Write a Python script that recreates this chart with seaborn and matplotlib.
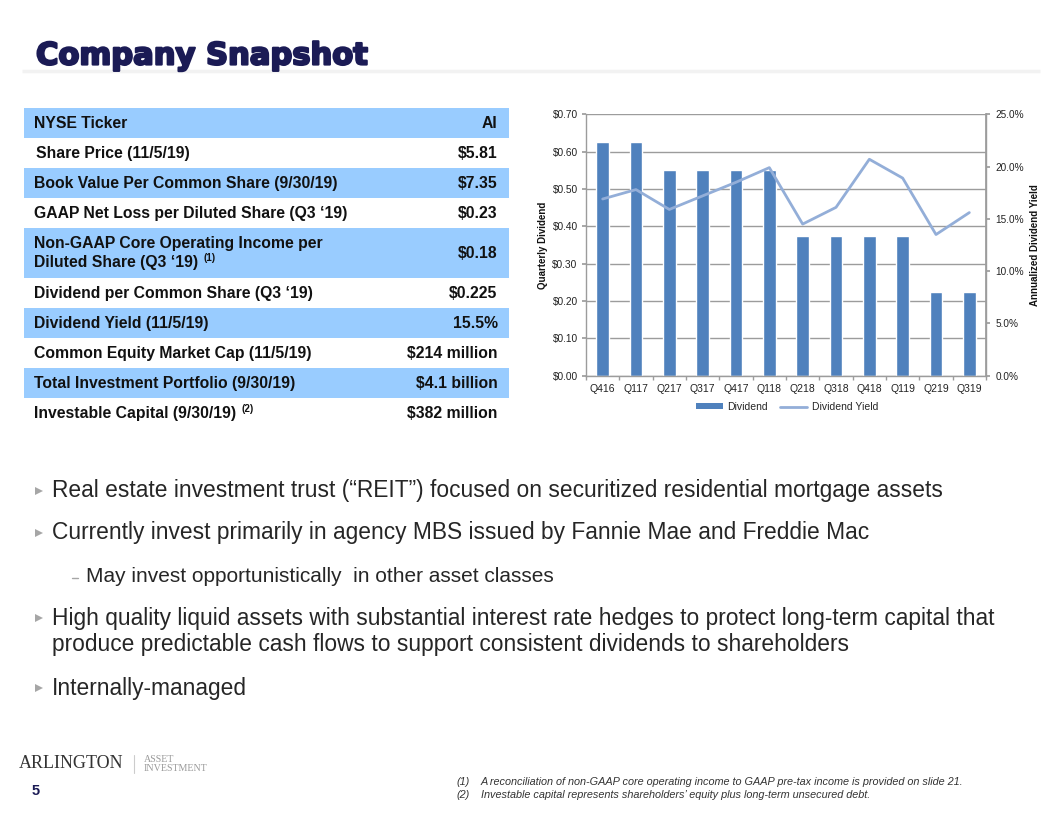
import matplotlib
matplotlib.use("Agg")
import matplotlib.pyplot as plt
import matplotlib.patheffects as pe
import seaborn as sns
import pandas as pd
import numpy as np
from matplotlib.patches import Rectangle
from matplotlib.lines import Line2D
from matplotlib.ticker import FuncFormatter, MultipleLocator, FixedLocator

# ---------------- data ----------------
quarters = ["Q416", "Q117", "Q217", "Q317", "Q417", "Q118",
            "Q218", "Q318", "Q418", "Q119", "Q219", "Q319"]
dividend = [0.625, 0.625, 0.55, 0.55, 0.55, 0.55,
            0.375, 0.375, 0.375, 0.375, 0.225, 0.225]
dividend_yield = [16.9, 17.8, 15.9, 17.2, 18.5, 19.9,
                  14.5, 16.1, 20.7, 18.9, 13.5, 15.6]

table_labels = ["NYSE Ticker",
                "Share Price (11/5/19)",
                "Book Value Per Common Share (9/30/19)",
                "GAAP Net Loss per Diluted Share (Q3 \u201819)",
                "Non-GAAP Core Operating Income per\nDiluted Share (Q3 \u201819)",
                "Dividend per Common Share (Q3 \u201819)",
                "Dividend Yield (11/5/19)",
                "Common Equity Market Cap (11/5/19)",
                "Total Investment Portfolio (9/30/19)",
                "Investable Capital (9/30/19)"]
table_values = ["AI", "$5.81", "$7.35", "$0.23", "$0.18", "$0.225",
                "15.5%", "$214 million", "$4.1 billion", "$382 million"]
table_notes = ["", "", "", "", "(1)", "", "", "", "", "(2)"]

bullets = [
    ("main", ["Real estate investment trust (\u201cREIT\u201d) focused on securitized residential mortgage assets"]),
    ("main", ["Currently invest primarily in agency MBS issued by Fannie Mae and Freddie Mac"]),
    ("sub", ["May invest opportunistically  in other asset classes"]),
    ("main", ["High quality liquid assets with substantial interest rate hedges to protect long-term capital that",
              "produce predictable cash flows to support consistent dividends to shareholders"]),
    ("main", ["Internally-managed"]),
]
footnotes = [("(1)", "A reconciliation of non-GAAP core operating income to GAAP pre-tax income is provided on slide 21."),
             ("(2)", "Investable capital represents shareholders\u2019 equity plus long-term unsecured debt.")]

# ---------------- style ----------------
sns.set_theme(style="white")
plt.rcParams['font.family'] = ['Liberation Sans', 'DejaVu Sans']

W, H = 1056, 816
fig = plt.figure(figsize=(W / 100, H / 100), dpi=100)
fig.patch.set_facecolor("white")

NAVY = "#1B1B55"
BLUE_ROW = "#99CCFF"
TEXT = "#262626"

# overlay axes in pixel coordinates
ov = fig.add_axes([0, 0, 1, 1])
ov.set_xlim(0, W)
ov.set_ylim(H, 0)
ov.axis("off")

# title
ov.text(36, 56, "Company Snapshot", family="DejaVu Sans", weight="bold",
        fontsize=22, color=NAVY, va="center", ha="left",
        path_effects=[pe.withStroke(linewidth=1.6, foreground=NAVY)])
ov.plot([22, 1040], [71, 71], color="#F2F2F2", lw=2.5, solid_capstyle="butt")

# ---------------- table ----------------
FS_T = 11.3
bounds = [108, 137.5, 168, 198, 228, 277.5, 308, 338, 368, 398, 428]
renderer = fig.canvas.get_renderer()
for i, (lab, val, note) in enumerate(zip(table_labels, table_values, table_notes)):
    top, bot = bounds[i], bounds[i + 1]
    if i % 2 == 0:
        ov.add_patch(Rectangle((24, top), 485, bot - top, facecolor=BLUE_ROW,
                               edgecolor="none"))
    yc = (top + bot) / 2 + 0.5
    x0 = 35.5 if i == 1 else 34.5
    lines = lab.split("\n")
    if len(lines) == 1:
        t = ov.text(x0, yc, lines[0], fontsize=FS_T, weight="bold", color="#111111",
                    va="center", ha="left")
        ty = yc
    else:
        ov.text(x0, yc - 9.5, lines[0], fontsize=FS_T, weight="bold", color="#111111",
                va="center", ha="left")
        t = ov.text(x0, yc + 9.5, lines[1], fontsize=FS_T, weight="bold", color="#111111",
                    va="center", ha="left")
        ty = yc + 9.5
    if note:
        bb = t.get_window_extent(renderer=renderer)
        ov.text(bb.x1 + 5, ty - 5, note, fontsize=7, weight="bold", color="#111111",
                va="center", ha="left")
    ov.text(497.5, yc, val, fontsize=FS_T, weight="bold", color="#111111",
            va="center", ha="right")

# ---------------- bullets ----------------
ys = [[491], [533], [577], [618, 644], [688]]
for (kind, lines), yl in zip(bullets, ys):
    if kind == "main":
        ov.plot([38.5], [yl[0]], marker=">", markersize=6, color="#A6A6A6",
                markeredgewidth=0)
        for ln, y in zip(lines, yl):
            ov.text(52, y, ln, fontsize=16.4, color=TEXT, va="center", ha="left")
    else:
        ov.plot([72, 78], [yl[0] + 1, yl[0] + 1], color="#A6A6A6", lw=1)
        ov.text(86, yl[0], lines[0], fontsize=15.0, color=TEXT, va="center", ha="left")

# ---------------- footer ----------------
ov.text(19, 764, "ARLINGTON", family="Liberation Serif", fontsize=13,
        color="#333333", va="center", ha="left")
ov.plot([134, 134], [755, 773], color="#CCCCCC", lw=0.8)
ov.text(144, 760, "ASSET", family="Liberation Serif", fontsize=7.2,
        color="#9A9A9A", va="center", ha="left")
ov.text(144, 768.5, "INVESTMENT", family="Liberation Serif", fontsize=7.2,
        color="#9A9A9A", va="center", ha="left")
ov.text(32, 791, "5", fontsize=10.5, weight="bold", color=NAVY, va="center", ha="left")
for (num, txt), y in zip(footnotes, [782, 795]):
    ov.text(456, y, num, fontsize=7.8, style="italic", color="#333333",
            va="center", ha="left")
    ov.text(481, y, txt, fontsize=7.8, style="italic", color="#333333",
            va="center", ha="left")

# ---------------- chart ----------------
L, R, T, B = 586, 986, 114.3, 375.7
ax = fig.add_axes([L / W, 1 - B / H, (R - L) / W, (B - T) / H])
df = pd.DataFrame({"Quarter": quarters, "Dividend": dividend, "Yield": dividend_yield})
sns.barplot(data=df, x="Quarter", y="Dividend", color="#4F81BD", saturation=1,
            width=0.38, ax=ax)
ax.set_xlim(-0.5, len(quarters) - 0.5)
ax.set_ylim(0, 0.70)
ax.yaxis.set_major_locator(MultipleLocator(0.1))
ax.yaxis.set_major_formatter(FuncFormatter(lambda v, p: f"${v:.2f}"))
ax.grid(axis="y", color="#9C9C9C", lw=1)
ax.grid(axis="x", visible=False)
ax.set_axisbelow(True)
ax.set_facecolor("none")
ax.spines["top"].set_visible(False)
for s in ["left", "right", "bottom"]:
    ax.spines[s].set_color("#9C9C9C")
    ax.spines[s].set_linewidth(1)
ax.set_xlabel("")
ax.set_ylabel("Quarterly Dividend", fontsize=7, weight="bold", color="#111111", labelpad=3)
ax.tick_params(axis="x", which="major", length=0, labelsize=7.5, colors="#222222", pad=6)
ax.xaxis.set_minor_locator(FixedLocator(np.arange(-0.5, len(quarters), 1.0)))
ax.tick_params(axis="x", which="minor", length=3, color="#9C9C9C", direction="out", bottom=True)
ax.tick_params(axis="y", length=3, color="#9C9C9C", direction="out", labelsize=7.3,
               colors="#222222", left=True, pad=3)

ax2 = ax.twinx()
sns.lineplot(x=np.arange(len(quarters)), y=df["Yield"].values, ax=ax2, color="#93AED8",
             lw=2.0, sort=False)
ax2.set_ylim(0, 25)
ax2.yaxis.set_major_locator(MultipleLocator(5))
ax2.yaxis.set_major_formatter(FuncFormatter(lambda v, p: f"{v:.1f}%"))
ax2.grid(False)
for s in ["top", "left", "bottom"]:
    ax2.spines[s].set_visible(False)
ax2.spines["right"].set_color("#9C9C9C")
ax2.tick_params(axis="y", length=3, color="#9C9C9C", direction="out", labelsize=7.2,
                colors="#222222", right=True, pad=4)
ax2.set_ylabel("Annualized Dividend Yield", fontsize=7, weight="bold", color="#111111",
               labelpad=4)
ax2.set_xlim(-0.5, len(quarters) - 0.5)

handles = [Rectangle((0, 0), 1, 1, facecolor="#4F81BD", edgecolor="none"),
           Line2D([0], [0], color="#93AED8", lw=2)]
fig.legend(handles, ["Dividend", "Dividend Yield"], loc="center",
           bbox_to_anchor=(787 / W, 1 - 407 / H), ncol=2, frameon=False,
           fontsize=7.5, handlelength=2.6, handleheight=0.45, columnspacing=1.2,
           handletextpad=0.4)

fig.savefig("out.png", dpi=100, facecolor="white")
